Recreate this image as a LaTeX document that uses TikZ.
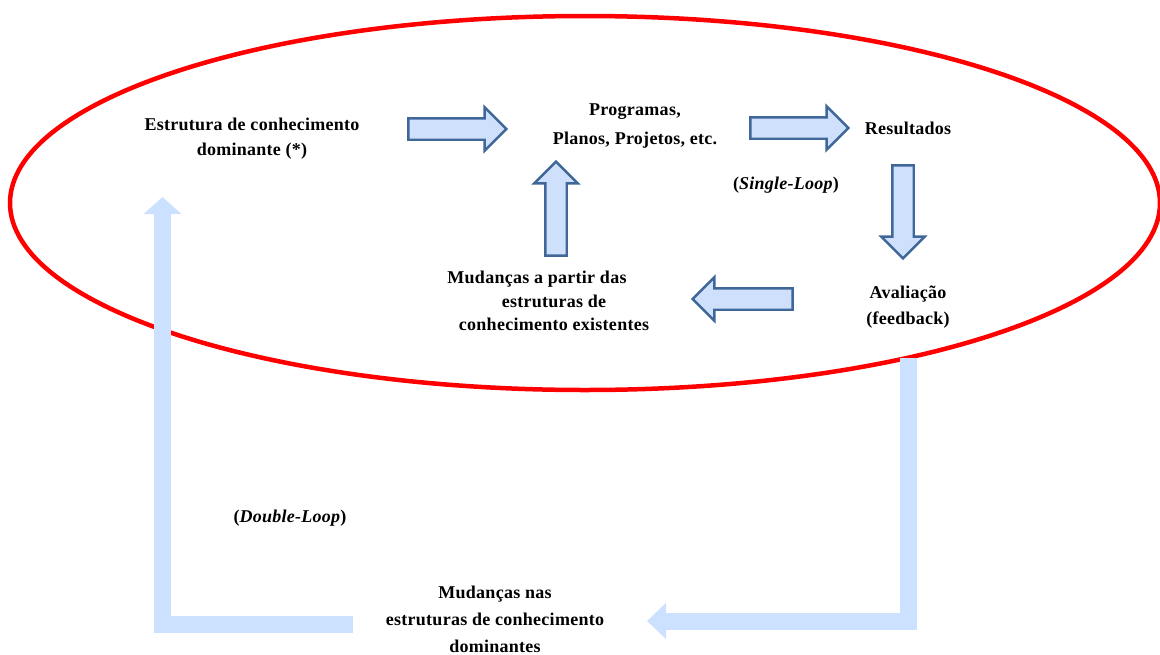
\documentclass[tikz,border=0pt]{standalone}
\usepackage{fontspec}
\setmainfont{Liberation Serif}[LetterSpace=1.5]
\usetikzlibrary{shapes.arrows,arrows.meta}
\definecolor{arrfill}{HTML}{CFE0FC}
\definecolor{arrdraw}{HTML}{3F6797}
\definecolor{loopblue}{HTML}{CCE0FF}
\definecolor{ellred}{HTML}{FF0000}
\newcommand\lf[1]{\fontsize{18}{#1}\selectfont\bfseries}
\tikzset{
  blockarrow/.style={single arrow, draw=arrdraw, fill=arrfill, line width=2.4pt,
    inner xsep=0pt, inner ysep=9.5pt, single arrow head extend=11pt,
    single arrow head indent=0pt, single arrow tip angle=90, minimum height=#1},
  lbl/.style={align=center, inner sep=0pt},
  loopline/.style={draw=loopblue, line width=17pt, line join=miter}
}
\begin{document}
\begin{tikzpicture}[x=1pt,y=-1pt]
\useasboundingbox (0,0) rectangle (1160,654);
% ellipse
\draw[ellred, line width=4.5pt] (585,203) ellipse [x radius=575, y radius=187];
% labels
\node[lbl, font=\lf{25}] (estr) at (252,139) {Estrutura de conhecimento\\dominante (*)};
\node[lbl, font=\lf{29}] (prog) at (635,126) {Programas,\\Planos, Projetos, etc.};
\node[lbl, font=\lf{25}] (res) at (908,128) {Resultados};
\node[lbl, font=\lf{25}] (single) at (786,185) {(\textit{Single-Loop})};
\node[lbl, font=\lf{23.5}] (mudex) at (554,301) {Mudanças a partir das\hspace*{34pt}\\estruturas de\\conhecimento existentes};
\node[lbl, font=\lf{26}] (aval) at (908,307) {Avaliação\\(feedback)};
\node[lbl, font=\lf{25}] (double) at (290,518) {(\textit{Double-Loop})};
\node[lbl, font=\lf{27}] (muddom) at (495,619) {Mudanças nas\\estruturas de conhecimento\\dominantes};
% block arrows
\node[blockarrow=98pt] (a1) at (452,129) {};
\node[blockarrow=98pt] (a2) at (794,128) {};
\node[blockarrow=93pt, rotate=-90] (a3) at (903,206.5) {};
\node[blockarrow=100pt, rotate=180] (a4) at (748,299) {};
\node[blockarrow=94pt, rotate=90] (a5) at (556,214) {};
% double loop
\coordinate (d1) at (908,358);
\coordinate (d2) at (908,621);
\coordinate (d3) at (647,621);
\coordinate (e1) at (353,624);
\coordinate (e2) at (162.5,624);
\coordinate (e3) at (162.5,197);
\draw[loopline, -{Triangle[width=35pt,length=19pt]}] (d1) -- (d2) -- (d3);
\draw[loopline, -{Triangle[width=37pt,length=17pt]}] (e1) -- (e2) -- (e3);
\end{tikzpicture}
\end{document}
